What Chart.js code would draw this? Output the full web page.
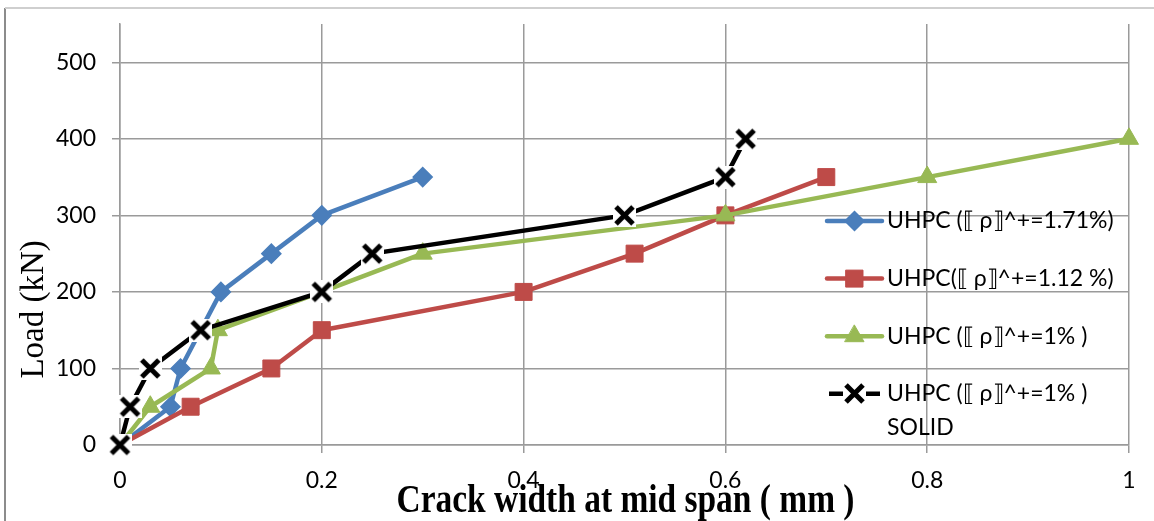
<!DOCTYPE html>
<html>
<head>
<meta charset="utf-8">
<title>Crack width vs load</title>
<script src="https://cdn.jsdelivr.net/npm/chart.js@4.4.1/dist/chart.umd.min.js"></script>
<style>
  html, body { margin: 0; padding: 0; background: #ffffff; }
  #wrap { width: 1154px; height: 521px; position: relative; }
  canvas { display: block; }
</style>
</head>
<body>
<div id="wrap"><canvas id="chart" width="1154" height="521"></canvas></div>
<script>
// Axis ticks
const crackWidthTicks = [0, 0.2, 0.4, 0.6, 0.8, 1];
const loadTicks = [0, 100, 200, 300, 400, 500];

// Series names (legend)
const seriesNames = [
  "UHPC (\u27E6 \u03C1\u27E7^+=1.71%)",
  "UHPC(\u27E6 \u03C1\u27E7^+=1.12 %)",
  "UHPC (\u27E6 \u03C1\u27E7^+=1% )",
  "UHPC (\u27E6 \u03C1\u27E7^+=1% )\nSOLID"
];

// Crack width (mm) and load (kN) per beam
const width171 = [0, 0.05, 0.06, 0.1, 0.15, 0.2, 0.3];
const load171  = [0, 50, 100, 200, 250, 300, 350];

const width112 = [0, 0.07, 0.15, 0.2, 0.4, 0.51, 0.6, 0.7];
const load112  = [0, 50, 100, 150, 200, 250, 300, 350];

const width100 = [0, 0.03, 0.09, 0.097, 0.2, 0.3, 0.6, 0.8, 1];
const load100  = [0, 50, 100, 150, 200, 250, 300, 350, 400];

const widthSolid = [0, 0.01, 0.03, 0.08, 0.2, 0.25, 0.5, 0.6, 0.62];
const loadSolid  = [0, 50, 100, 150, 200, 250, 300, 350, 400];

const COLORS = ['#4A7EBB', '#BE4B48', '#98B954', '#000000'];
const GRID = '#9a9a9a';
const TICK_FONT = { family: 'Lato, "Open Sans", sans-serif', size: 23 };

function pairs(xs, ys) { return xs.map((x, i) => ({ x: x, y: ys[i] })); }

// "x" marker on a white square backing
function makeCrossMarker(half, arm, lineWidth, color) {
  const size = Math.ceil(half * 2);
  const cv = document.createElement('canvas');
  cv.width = size; cv.height = size;
  const g = cv.getContext('2d');
  const c = size / 2;
  g.fillStyle = '#ffffff';
  g.fillRect(c - half, c - half, half * 2, half * 2);
  g.strokeStyle = color;
  g.lineWidth = lineWidth;
  g.lineCap = 'butt';
  g.beginPath();
  g.moveTo(c - arm, c - arm); g.lineTo(c + arm, c + arm);
  g.moveTo(c + arm, c - arm); g.lineTo(c - arm, c + arm);
  g.stroke();
  return cv;
}
const crossMarker = makeCrossMarker(11.5, 8.5, 5, COLORS[3]);

const datasets = [
  {
    label: seriesNames[0], data: pairs(width171, load171),
    borderColor: COLORS[0], backgroundColor: COLORS[0], borderWidth: 4.5,
    pointStyle: 'rectRot', pointRadius: 9.5, pointBorderWidth: 1.5,
    pointBackgroundColor: COLORS[0], pointBorderColor: COLORS[0],
    borderJoinStyle: 'round', borderCapStyle: 'round', order: 4, clip: false
  },
  {
    label: seriesNames[1], data: pairs(width112, load112),
    borderColor: COLORS[1], backgroundColor: COLORS[1], borderWidth: 4.5,
    pointStyle: 'rect', pointRadius: 12, pointBorderWidth: 1,
    pointBackgroundColor: COLORS[1], pointBorderColor: COLORS[1],
    borderJoinStyle: 'round', borderCapStyle: 'round', order: 3, clip: false
  },
  {
    label: seriesNames[2], data: pairs(width100, load100),
    borderColor: COLORS[2], backgroundColor: COLORS[2], borderWidth: 4.5,
    pointStyle: 'triangle', pointRadius: 11, pointBorderWidth: 1,
    pointBackgroundColor: COLORS[2], pointBorderColor: COLORS[2],
    borderJoinStyle: 'round', borderCapStyle: 'round', order: 2, clip: false
  },
  {
    label: seriesNames[3], data: pairs(widthSolid, loadSolid),
    borderColor: COLORS[3], backgroundColor: COLORS[3], borderWidth: 4.5,
    pointStyle: crossMarker, pointRadius: 11.5,
    borderCapStyle: 'butt', order: 1, clip: false
  }
];

// Outer frame lines and white background
const framePlugin = {
  id: 'frame',
  beforeDraw(chart) {
    const c = chart.ctx;
    c.save();
    c.fillStyle = '#ffffff';
    c.fillRect(0, 0, chart.width, chart.height);
    c.lineWidth = 2;
    c.strokeStyle = '#8c8c8c';
    c.beginPath(); c.moveTo(5, 8); c.lineTo(5, chart.height); c.stroke();
    c.strokeStyle = '#cfcfcf';
    c.beginPath(); c.moveTo(5, 8); c.lineTo(chart.width, 8); c.stroke();
    c.restore();
  }
};

// Axis titles
const titlePlugin = {
  id: 'axisTitles',
  afterDraw(chart) {
    const c = chart.ctx, a = chart.chartArea;
    c.save();
    c.fillStyle = '#000000';
    c.font = '33px "Liberation Serif", "Times New Roman", serif';
    c.textAlign = 'center';
    c.textBaseline = 'middle';
    c.translate(a.left - 86, a.top + (a.bottom - a.top) * 0.678);
    c.rotate(-Math.PI / 2);
    c.fillText('Load (kN)', 0, 0);
    c.restore();

    c.save();
    c.fillStyle = '#000000';
    c.font = 'bold 40px "Liberation Serif", "Times New Roman", serif';
    c.textAlign = 'center';
    c.textBaseline = 'alphabetic';
    const text = 'Crack width at mid span ( mm )';
    const w = c.measureText(text).width;
    const sx = 458 / w;
    c.translate(a.left + (a.right - a.left) * 0.501, a.bottom + 67);
    c.scale(sx, 1);
    c.fillText(text, 0, 0);
    c.restore();
  }
};

// Legend inside the plot area
const legendPlugin = {
  id: 'innerLegend',
  afterDraw(chart) {
    const c = chart.ctx, a = chart.chartArea;
    const x0 = a.right - 302, x1 = a.right - 247;
    const xm = (x0 + x1) / 2;
    const textX = a.right - 242;
    const y0 = a.top + 197, step = 57.6, lineH = 34;
    c.save();
    chart.data.datasets.forEach((ds, i) => {
      const y = y0 + i * step;
      const isImage = typeof ds.pointStyle !== 'string';
      c.strokeStyle = ds.borderColor;
      c.lineWidth = ds.borderWidth;
      c.lineCap = isImage ? 'butt' : 'round';
      c.beginPath();
      c.moveTo(x0 + (isImage ? 2 : 0), y); c.lineTo(x1 - (isImage ? 2 : 0), y);
      c.stroke();
      if (isImage) {
        const img = ds.pointStyle;
        c.drawImage(img, Math.round(xm - img.width / 2), Math.round(y - img.height / 2));
      } else {
        c.fillStyle = ds.pointBackgroundColor;
        c.strokeStyle = ds.pointBorderColor;
        c.lineWidth = ds.pointBorderWidth;
        Chart.helpers.drawPoint(c, {
          pointStyle: ds.pointStyle, radius: ds.pointRadius,
          rotation: 0, borderWidth: ds.pointBorderWidth
        }, xm, y);
      }
      c.fillStyle = '#000000';
      c.font = '23px Lato, "Open Sans", sans-serif';
      c.textAlign = 'left';
      c.textBaseline = 'middle';
      ds.label.split('\n').forEach((line, k) => c.fillText(line, textX, y + k * lineH));
    });
    c.restore();
  }
};

function fixPadding(scale) {
  scale.paddingTop = 0; scale.paddingBottom = 0;
  scale.paddingLeft = 0; scale.paddingRight = 0;
}

new Chart(document.getElementById('chart'), {
  type: 'scatter',
  data: { datasets: datasets },
  plugins: [framePlugin, titlePlugin, legendPlugin],
  options: {
    responsive: false,
    animation: false,
    devicePixelRatio: 1,
    showLine: true,
    layout: { padding: { top: 24, right: 25, left: 0, bottom: 0 } },
    plugins: { legend: { display: false }, tooltip: { enabled: false } },
    scales: {
      x: {
        type: 'linear', min: 0, max: 1,
        afterBuildTicks(scale) { scale.ticks = crackWidthTicks.map(v => ({ value: v })); },
        afterFit(scale) { scale.height = 76; fixPadding(scale); },
        ticks: { font: TICK_FONT, color: '#000000', padding: 14, maxRotation: 0,
                 callback: v => String(v) },
        grid: { color: GRID, lineWidth: 1.5, tickLength: 8, tickColor: GRID },
        border: { color: GRID, width: 1.5 }
      },
      y: {
        type: 'linear', min: 0, max: 550,
        afterBuildTicks(scale) { scale.ticks = loadTicks.map(v => ({ value: v })); },
        afterFit(scale) { scale.width = 120; fixPadding(scale); },
        ticks: { font: TICK_FONT, color: '#000000', padding: 16, callback: v => String(v) },
        grid: { color: GRID, lineWidth: 1.5, tickLength: 8, tickColor: GRID },
        border: { color: GRID, width: 1.5 }
      }
    }
  }
});
</script>
</body>
</html>
